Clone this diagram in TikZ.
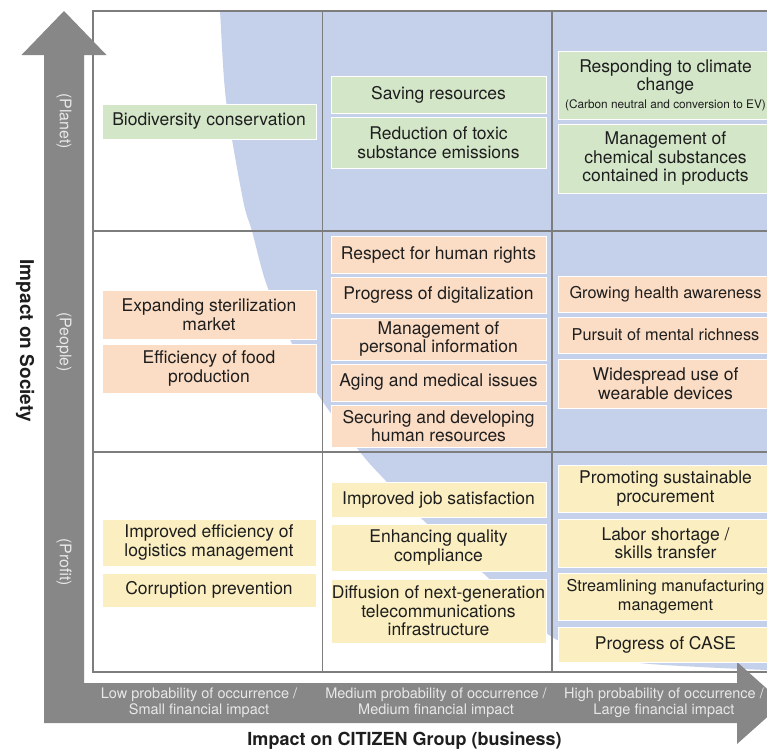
\documentclass[tikz,border=0pt]{standalone}
\usepackage{fontspec}
\setmainfont{TeX Gyre Heros}
\definecolor{gfill}{HTML}{D3E6C8}
\definecolor{pfill}{HTML}{FBDCC4}
\definecolor{yfill}{HTML}{FBEFC1}
\definecolor{bluebg}{HTML}{C5D0EA}
\definecolor{agray}{HTML}{878787}
\definecolor{gridc}{HTML}{7D7D7D}
\definecolor{ltext}{HTML}{E8E8E8}
\definecolor{btext}{HTML}{1E1E1E}
\newcommand\bxfont{\fontsize{17.5}{18.5}\selectfont}
\newcommand\narrowfont{\fontsize{16.3}{18.5}\selectfont}
\begin{document}
\begin{tikzpicture}[x=1pt,y=-1pt,
  box/.style={draw=white, line width=1pt, inner sep=0pt, align=center, font=\bxfont, text=btext},
  gbox/.style={box, fill=gfill},
  pbox/.style={box, fill=pfill},
  ybox/.style={box, fill=yfill},
  lw/.style={minimum width=214pt},
  mw/.style={minimum width=215pt},
  rw/.style={minimum width=215pt},
  axlab/.style={text=ltext, align=center, font=\fontsize{14.5}{16}\selectfont, inner sep=0pt},
  sidelab/.style={text=ltext, rotate=-90, font=\fontsize{16}{17}\selectfont, inner sep=0pt},
  gridline/.style={draw=gridc, line width=1.1pt}]
\useasboundingbox (0,0) rectangle (767,750);
% blue background region
\begin{scope}
\clip (93,11) rectangle (800,672);
\fill[bluebg] plot[smooth] coordinates {(219,5) (220,11) (226,100) (243,200) (252,231) (266,283) (288,335) (315,390) (360,452) (385,480) (423,520) (483,573) (549,635) (600,655) (640,663) (700,667) (767,670) (800,671)} -- (800,690) -- (800,5) -- cycle;
\end{scope}
% grid
\draw[gridline] (800,11) -- (93,11) -- (93,672) -- (800,672);
\draw[gridline] (322.5,11) -- (322.5,672);
\draw[gridline] (552,11) -- (552,672);
\draw[gridline] (93,231) -- (800,231);
\draw[gridline] (93,452) -- (800,452);
% axes arrow
\fill[agray] (44,723) -- (44,55) -- (21.5,55) -- (64,11) -- (106.5,55) -- (84,55) -- (84,683) -- (737,683) -- (737,662) -- (783,703) -- (737,744) -- (737,723) -- cycle;
% side labels
\node[sidelab] (planet) at (64,121) {(Planet)};
\node[sidelab] (people) at (64,342) {(People)};
\node[sidelab] (profit) at (64,562) {(Profit)};
\node[rotate=-90, font=\fontsize{19}{21}\selectfont\bfseries, text=btext, inner sep=0pt] (yaxis) at (25,341) {Impact on Society};
\node[axlab] (low) at (199,703) {Low probability of occurrence /\\Small financial impact};
\node[axlab] (med) at (436,703) {Medium probability of occurrence /\\Medium financial impact};
\node[axlab] (high) at (664,703) {High probability of occurrence /\\Large financial impact};
\node[font=\fontsize{18}{20}\selectfont\bfseries, text=btext, inner sep=0pt] (xaxis) at (404.5,741) {Impact on CITIZEN Group (business)};
% Planet row
\node[gbox, lw, minimum height=35pt] (bio) at (209,121.5) {Biodiversity conservation};
\node[gbox, mw, minimum height=37pt] (saving) at (438.5,94.5) {Saving resources};
\node[gbox, mw, minimum height=51pt] (toxic) at (438.5,142.5) {Reduction of toxic\\substance emissions};
\node[gbox, rw, minimum height=68pt] (climate) at (665.5,85) {Responding to climate\\change\\[-1pt]{\fontsize{11.8}{13}\selectfont (Carbon neutral and conversion to EV)}};
\node[gbox, rw, minimum height=69pt] (chem) at (665.5,158.5) {Management of\\chemical substances\\contained in products};
% People row
\node[pbox, lw, minimum height=49pt] (steril) at (209,314.5) {Expanding sterilization\\market};
\node[pbox, lw, minimum height=49pt] (food) at (209,368.5) {Efficiency of food\\production};
\node[pbox, mw, minimum height=37pt] (rights) at (438.5,254.5) {Respect for human rights};
\node[pbox, mw, minimum height=36pt] (digital) at (438.5,295) {Progress of digitalization};
\node[pbox, mw, minimum height=42pt] (personal) at (438.5,339) {Management of\\personal information};
\node[pbox, mw, minimum height=37pt] (aging) at (438.5,382.5) {Aging and medical issues};
\node[pbox, mw, minimum height=42pt] (securing) at (438.5,426) {Securing and developing\\human resources};
\node[pbox, rw, minimum height=36pt, font=\narrowfont] (health) at (665.5,294) {Growing health awareness};
\node[pbox, rw, minimum height=36pt, font=\narrowfont] (mental) at (665.5,335) {Pursuit of mental richness};
\node[pbox, rw, minimum height=49pt] (wear) at (665.5,383.5) {Widespread use of\\wearable devices};
% Profit row
\node[ybox, lw, minimum height=47pt] (logist) at (209,542.5) {Improved efficiency of\\logistics management};
\node[ybox, lw, minimum height=34pt] (corrupt) at (209,590) {Corruption prevention};
\node[ybox, mw, minimum height=35pt] (job) at (438.5,499.5) {Improved job satisfaction};
\node[ybox, mw, minimum height=47pt] (quality) at (438.5,547.5) {Enhancing quality\\compliance};
\node[ybox, mw, minimum height=64pt] (diffusion) at (438.5,611) {Diffusion of next-generation\\telecommunications\\infrastructure};
\node[ybox, rw, minimum height=47pt] (procure) at (665.5,488.5) {Promoting sustainable\\procurement};
\node[ybox, rw, minimum height=48pt] (labor) at (665.5,543) {Labor shortage /\\skills transfer};
\node[ybox, rw, minimum height=47pt, font=\narrowfont] (stream) at (665.5,596.5) {Streamlining manufacturing\\management};
\node[ybox, rw, minimum height=35pt] (case) at (665.5,644.5) {Progress of CASE};
\end{tikzpicture}
\end{document}
